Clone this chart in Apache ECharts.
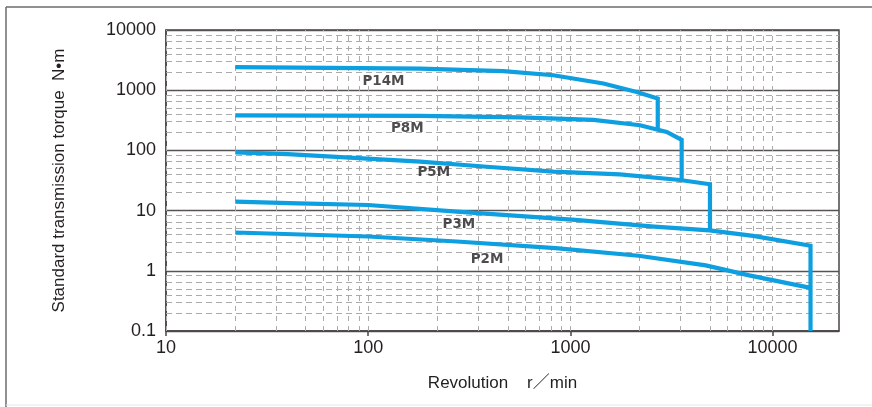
<!DOCTYPE html>
<html>
<head>
<meta charset="utf-8">
<script src="https://cdn.jsdelivr.net/npm/echarts@6/dist/echarts.min.js"></script>
<style>
    html, body { margin: 0; padding: 0; background: #fff; }
    #chart { width: 872px; height: 407px; }
</style>
</head>
<body>
<div id="chart"></div>
<script>
// 各型号的转速(r/min)与传动扭矩(N·m)
const p14mRpm = [22, 181, 466, 824, 1456, 2129, 2704, 2704];
const p14mTorque = [2420, 2280, 2080, 1770, 1290, 933, 726, 226];

const p8mRpm = [22, 181, 563, 1300, 2209, 2995, 3550, 3550];
const p8mTorque = [383, 375, 355, 322, 262, 203, 150, 32];

const p5mRpm = [22, 40, 181, 386, 824, 1757, 3483, 4900, 4900];
const p5mTorque = [93, 87, 65, 53.5, 44.3, 40, 32.2, 27.4, 4.7];

const p3mRpm = [22, 45, 100, 274, 1057, 2594, 4875, 8000, 15400, 15400];
const p3mTorque = [14.1, 13.2, 12.4, 9.6, 7.0, 5.4, 4.7, 3.8, 2.61, 0.1];

const p2mRpm = [22, 100, 274, 845, 2172, 4670, 7660, 15400];
const p2mTorque = [4.33, 3.71, 3.07, 2.38, 1.78, 1.23, 0.84, 0.52];

// 曲线标注
const labelNames = ['P14M', 'P8M', 'P5M', 'P3M', 'P2M'];
const labelRpm = [119, 156, 211, 281, 387];
const labelTorque = [1400, 231, 43.3, 5.96, 1.53];

// 坐标轴刻度
const xTicks = [10, 100, 1000, 10000];
const yTicks = [0.1, 1, 10, 100, 1000, 10000];

// 辅助网格(每个数量级内的倍数)
const xMinorFactors = [2.2, 3.5, 4.9, 6, 7, 8, 9];
const yMinorFactors = [2, 3, 4, 5, 6.5, 8.3];

const CURVE_COLOR = '#0d9fdf';
const TEXT_COLOR = '#231f20';
const FONT = '"Liberation Sans", Arial, "Noto Sans CJK SC", sans-serif';

// 两个数组合并成点
function zip(xs, ys) {
    let pts = [];
    for (let i = 0; i < xs.length; i++) {
        pts.push([xs[i], ys[i]]);
    }
    return pts;
}

// 生成网格线的 markLine 数据
function minorLines(ticks, factors, key) {
    let lines = [];
    for (let i = 0; i < ticks.length; i++) {
        lines.push({ [key]: ticks[i] });
        if (i === ticks.length - 1) {
            break;
        }
        for (let j = 0; j < factors.length; j++) {
            lines.push({ [key]: ticks[i] * factors[j] });
        }
    }
    return lines;
}

function curve(name, xs, ys) {
    return {
        name: name,
        type: 'line',
        data: zip(xs, ys),
        symbol: 'none',
        z: 5,
        lineStyle: { color: CURVE_COLOR, width: 4.2, join: 'miter' }
    };
}

function tickFormat(v) {
    return String(Number(v.toPrecision(6)));
}

let labelData = [];
for (let i = 0; i < labelNames.length; i++) {
    labelData.push({ name: labelNames[i], value: [labelRpm[i], labelTorque[i]] });
}

const chart = echarts.init(document.getElementById('chart'));

const option = {
    animation: false,
    grid: {
        left: 166, top: 30, right: 33, bottom: 76,
        show: true,
        borderColor: '#4a4546',
        borderWidth: 1.5
    },
    xAxis: {
        type: 'log',
        logBase: 10,
        min: 10,
        max: 21300,
        name: 'Revolution    r／min',
        nameLocation: 'middle',
        nameGap: 44,
        nameTextStyle: { fontFamily: FONT, fontSize: 17, color: TEXT_COLOR },
        axisLine: { lineStyle: { color: '#4a4546', width: 1.5 } },
        axisTick: {
            show: true, length: 5, customValues: xTicks,
            lineStyle: { color: '#4a4546', width: 1.5 }
        },
        axisLabel: {
            margin: 8,
            customValues: xTicks,
            fontFamily: FONT, fontSize: 18, color: TEXT_COLOR,
            formatter: tickFormat
        },
        splitLine: { show: false }
    },
    yAxis: {
        type: 'log',
        logBase: 10,
        min: 0.1,
        max: 10000,
        name: 'Standard transmission torque  N•m',
        nameLocation: 'middle',
        nameRotate: 90,
        nameGap: 98,
        nameTextStyle: { fontFamily: FONT, fontSize: 17, color: TEXT_COLOR },
        axisLine: { lineStyle: { color: '#4a4546', width: 1.5 } },
        axisTick: { show: false },
        axisLabel: {
            margin: 10,
            fontFamily: FONT, fontSize: 18, color: TEXT_COLOR,
            showMinLabel: true, showMaxLabel: true,
            formatter: tickFormat
        },
        splitLine: { show: true, lineStyle: { color: '#575253', width: 1.3 } }
    },
    graphic: [
        // 外框(左、上)
        { type: 'line', shape: { x1: 6, y1: 7, x2: 6, y2: 407 }, style: { stroke: '#6d6a6b', lineWidth: 1.5 } },
        { type: 'line', shape: { x1: 6, y1: 7, x2: 872, y2: 7 }, style: { stroke: '#6d6a6b', lineWidth: 1.5 } },
        { type: 'line', shape: { x1: 6, y1: 405, x2: 872, y2: 405 }, style: { stroke: '#e6e6e6', lineWidth: 1 } }
    ],
    series: [
        // 竖向虚线网格
        {
            type: 'line', data: [], z: 1, silent: true,
            markLine: {
                silent: true, animation: false, symbol: ['none', 'none'],
                label: { show: false },
                lineStyle: { color: '#ababab', width: 1, type: [5, 5] },
                data: minorLines(xTicks, xMinorFactors, 'xAxis')
            }
        },
        // 横向虚线网格
        {
            type: 'line', data: [], z: 1, silent: true,
            markLine: {
                silent: true, animation: false, symbol: ['none', 'none'],
                label: { show: false },
                lineStyle: { color: '#ababab', width: 1, type: [6, 4] },
                data: minorLines(yTicks, yMinorFactors, 'yAxis').filter(function (d) {
                    return yTicks.indexOf(d.yAxis) < 0;
                })
            }
        },
        curve('P14M', p14mRpm, p14mTorque),
        curve('P8M', p8mRpm, p8mTorque),
        curve('P5M', p5mRpm, p5mTorque),
        curve('P3M', p3mRpm, p3mTorque),
        curve('P2M', p2mRpm, p2mTorque),
        // 型号标注
        {
            type: 'scatter',
            data: labelData,
            symbolSize: 0,
            z: 6,
            label: {
                show: true,
                position: 'inside',
                formatter: '{b}',
                fontFamily: '"DejaVu Sans", sans-serif',
                fontWeight: 'bold',
                fontSize: 13.5,
                color: TEXT_COLOR
            }
        }
    ]
};

chart.setOption(option);
</script>
</body>
</html>
